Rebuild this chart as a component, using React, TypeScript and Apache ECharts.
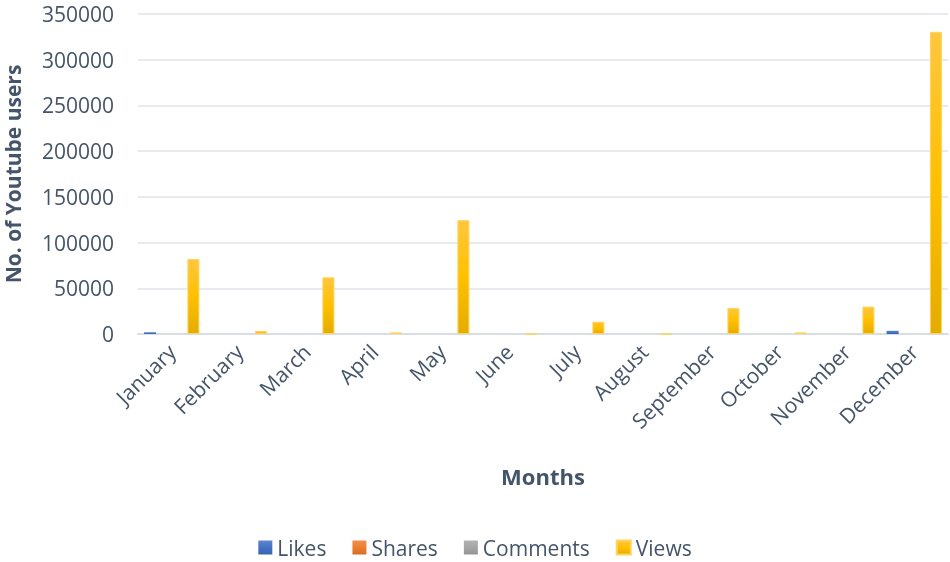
import React, { useEffect, useRef } from "react";
import * as echarts from "echarts";

const months = ["January", "February", "March", "April", "May", "June", "July", "August", "September", "October", "November", "December"];
const likes = [2000, 0, 0, 0, 0, 0, 0, 0, 0, 0, 0, 3500];
const shares = [0, 0, 0, 0, 0, 0, 0, 0, 0, 0, 0, 0];
const comments = [0, 0, 0, 0, 0, 0, 0, 0, 0, 0, 0, 0];
const views = [82000, 3300, 62000, 1800, 124500, 0, 13500, 0, 28500, 1800, 30000, 330500];
const yTicks = { min: 0, max: 350000, interval: 50000 };

const FONT = "'Open Sans', 'Noto Sans', sans-serif";
const TXT = "#44546a";

function grad(top: string, mid: string, bottom: string) {
  return new echarts.graphic.LinearGradient(0, 0, 0, 1, [
    { offset: 0, color: top },
    { offset: 0.5, color: mid },
    { offset: 1, color: bottom },
  ]);
}

export default function App() {
  const ref = useRef<HTMLDivElement>(null);
  useEffect(() => {
    if (!ref.current) return;
    const chart = echarts.init(ref.current, undefined, { renderer: "svg" });
    const barBase = {
      type: "bar" as const,
      barGap: "20%",
      barCategoryGap: "18%",
    };
    chart.setOption({
      animation: false,
      textStyle: { fontFamily: FONT },
      grid: { left: 138, right: 2, top: 14, bottom: 228, containLabel: false, outerBoundsMode: "none" },
      legend: {
        top: 532,
        left: "center",
        itemWidth: 14,
        itemHeight: 14,
        itemGap: 26,
        icon: "rect",
        textStyle: { color: TXT, fontSize: 21, fontFamily: FONT },
        data: ["Likes", "Shares", "Comments", "Views"],
      },
      xAxis: {
        type: "category",
        data: months,
        name: "Months",
        nameLocation: "middle",
        nameGap: 131,
        nameTextStyle: { color: TXT, fontSize: 22, fontWeight: "bold", fontFamily: FONT },
        axisLine: { lineStyle: { color: "#d9dde4", width: 2 } },
        axisTick: { show: false },
        axisLabel: { rotate: 45, color: TXT, fontSize: 21, fontFamily: FONT, margin: 14, interval: 0 },
      },
      yAxis: {
        type: "value",
        min: yTicks.min,
        max: yTicks.max,
        interval: yTicks.interval,
        name: "No. of Youtube users",
        nameLocation: "middle",
        nameGap: 115,
        nameTextStyle: { color: TXT, fontSize: 21, fontWeight: "bold", fontFamily: FONT },
        axisLine: { show: false },
        axisTick: { show: false },
        axisLabel: { color: TXT, fontSize: 21, fontFamily: FONT, margin: 24, formatter: (v: number) => String(v) },
        splitLine: { lineStyle: { color: "#dfe3ea", width: 1.5 } },
      },
      series: [
        { ...barBase, name: "Likes", data: likes, itemStyle: { color: grad("#5b86d0", "#4472c4", "#3a63ad") } },
        { ...barBase, name: "Shares", data: shares, itemStyle: { color: grad("#f08e4e", "#ed7d31", "#d56d27") } },
        { ...barBase, name: "Comments", data: comments, itemStyle: { color: grad("#b3b3b3", "#a5a5a5", "#939393") } },
        {
          ...barBase,
          name: "Views",
          data: views,
          itemStyle: { color: grad("#ffc63f", "#ffc000", "#e3ac00"), borderColor: "#ffd45c", borderWidth: 1 },
        },
      ],
    });
    return () => chart.dispose();
  }, []);
  return <div ref={ref} style={{ position: "fixed", left: 0, top: 0, width: 950, height: 562 }} />;
}
